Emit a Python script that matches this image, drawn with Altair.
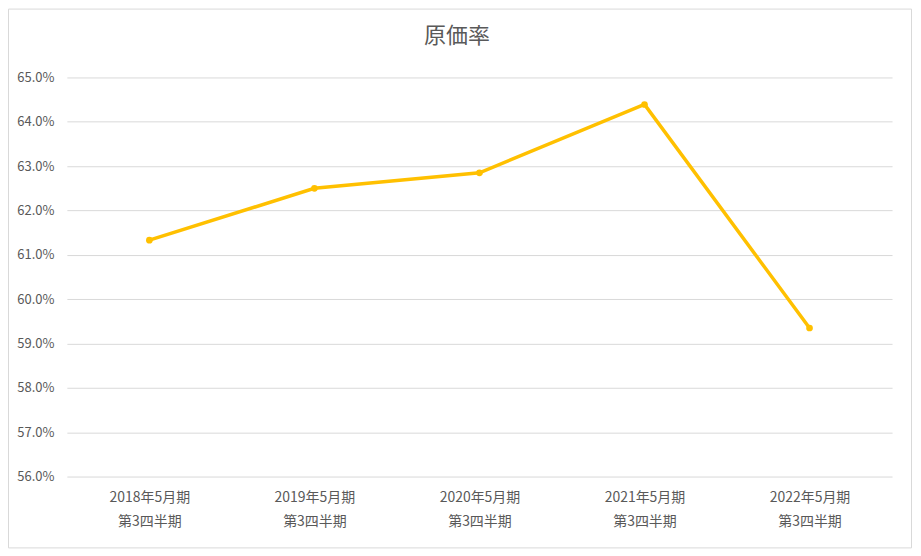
import altair as alt
import pandas as pd

title_text = ["原価率"]
categories = ["2018年5月期\n第3四半期", "2019年5月期\n第3四半期", "2020年5月期\n第3四半期",
              "2021年5月期\n第3四半期", "2022年5月期\n第3四半期"]
values = [0.6133, 0.6250, 0.6285, 0.6439, 0.5935]
y_ticks = [0.56, 0.57, 0.58, 0.59, 0.60, 0.61, 0.62, 0.63, 0.64, 0.65]

df = pd.DataFrame({"cat": categories, "v": values})
tdf = pd.DataFrame({"t": title_text})

FONT = "Noto Sans CJK JP"
GREY = "#595959"

x = alt.X("cat:N", sort=categories, title=None,
          scale=alt.Scale(paddingInner=0, paddingOuter=0.5),
          axis=alt.Axis(labelAngle=0, labelExpr="split(datum.label, '\\n')",
                        labelLineHeight=24, labelPadding=14, ticks=False,
                        domain=False, labelColor=GREY, labelFontSize=14,
                        labelFont=FONT))
y = alt.Y("v:Q", title=None,
          scale=alt.Scale(domain=[0.56, 0.65], nice=False, zero=False),
          axis=alt.Axis(values=y_ticks, format=".1%", ticks=False, domain=False,
                        labelPadding=13, labelColor=GREY, labelFontSize=13,
                        labelFont=FONT, gridColor="#d9d9d9", gridWidth=1))

line = alt.Chart(df).mark_line(color="#FFC000", strokeWidth=3.5).encode(x=x, y=y)
pts = alt.Chart(df).mark_point(filled=True, color="#FFC000", size=45, opacity=1).encode(x=x, y=y)

frame = alt.Chart(tdf).mark_rect(fill=None, stroke="#d9d9d9", strokeWidth=1).encode(
    x=alt.value(-58.5), x2=alt.value(846.5), y=alt.value(-68.5), y2=alt.value(471.5))

title = alt.Chart(tdf).mark_text(font=FONT, fontSize=22, color=GREY, baseline="middle",
                                 align="center").encode(
    text="t:N", x=alt.value(391), y=alt.value(-42))

chart = alt.layer(frame, line, pts, title).properties(
    width=827, height=400,
    autosize=alt.AutoSizeParams(type="none"),
    padding={"left": 59, "top": 69, "right": 21, "bottom": 73},
).configure_view(stroke=None)

chart.save("out.html", embed_options={"renderer": "svg", "actions": False})
